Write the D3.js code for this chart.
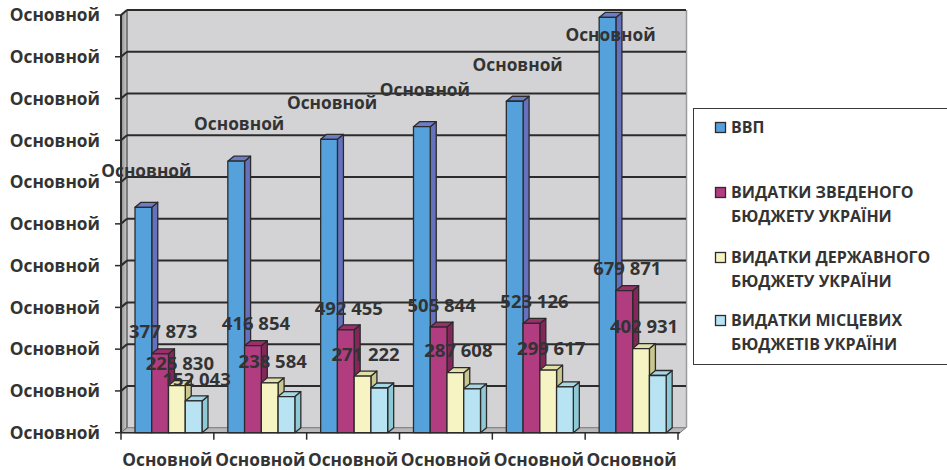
<!DOCTYPE html>
<html>
<head>
<meta charset="utf-8">
<script src="https://cdn.jsdelivr.net/npm/d3@7"></script>
<style>
  body { margin: 0; background: #ffffff; }
  svg { display: block; font-family: "Open Sans", Lato, sans-serif; font-weight: 700; }
</style>
</head>
<body>
<svg id="chart" width="947" height="470"></svg>
<script>
// Category (x) labels and value-axis tick labels
const categoryLabels = ["Основной", "Основной", "Основной", "Основной", "Основной", "Основной"];
const yTickValues = [0, 200000, 400000, 600000, 800000, 1000000, 1200000, 1400000, 1600000, 1800000, 2000000];
const yTickLabel = "Основной";

// Series names (legend)
const seriesNames = [
  ["ВВП"],
  ["ВИДАТКИ ЗВЕДЕНОГО", "БЮДЖЕТУ УКРАЇНИ"],
  ["ВИДАТКИ ДЕРЖАВНОГО", "БЮДЖЕТУ УКРАЇНИ"],
  ["ВИДАТКИ МІСЦЕВИХ", "БЮДЖЕТІВ УКРАЇНИ"]
];

// Series values, mln UAH
const gdp          = [1079346, 1299991, 1404669, 1465198, 1586915, 1988544];
const consolidated = [377873, 416854, 492455, 505844, 523126, 679871];
const stateBudget  = [225830, 238584, 271222, 287608, 299617, 402931];
const localBudgets = [152043, 173000, 214000, 210000, 219000, 274000];

// Which bars carry a data label
const gdpLabelShown   = [true, true, true, true, true, true];
const consLabelShown  = [true, true, true, true, true, true];
const stateLabelShown = [true, true, true, true, true, true];
const localLabelShown = [true, false, false, false, false, false];

const series = [
  { values: gdp,          shown: gdpLabelShown,   front: "#55a1dc", side: "#6570bf", top: "#6d7cc8", text: () => "Основной" },
  { values: consolidated, shown: consLabelShown,  front: "#b13c80", side: "#84265a", top: "#98306a", text: null },
  { values: stateBudget,  shown: stateLabelShown, front: "#f7f4c3", side: "#c9c78f", top: "#e3dfa9", text: null },
  { values: localBudgets, shown: localLabelShown, front: "#b8e3f3", side: "#8ecad6", top: "#a6d7e5", text: null }
];

const fmt = d3.formatLocale({ decimal: ",", thousands: " ", grouping: [3], currency: ["", ""] }).format(",d");

const svg = d3.select("#chart");
const ink = "#2b2b2b";
const textInk = "#333333";

// Geometry of the 3D box
const left = 121, right = 680, bottom = 432.7, topY = 15;
const depthX = 6, depthY = 5;            // wall depth
const barDX = 6, barDY = 5;              // bar depth

const y = d3.scaleLinear().domain([0, 2000000]).range([bottom, topY]);
const x = d3.scaleBand().domain(d3.range(categoryLabels.length)).range([left, 678]).padding(0);
const inner = d3.scaleBand().domain(d3.range(series.length)).range([14, 14 + 4 * 16.75]).padding(0);

const defs = svg.append("defs");
const gSide = defs.append("linearGradient").attr("id", "sideWall").attr("x1", 0).attr("x2", 1).attr("y1", 0).attr("y2", 0);
gSide.append("stop").attr("offset", 0).attr("stop-color", "#8c8c8c");
gSide.append("stop").attr("offset", 1).attr("stop-color", "#cfcfcf");

// Back wall
svg.append("rect")
  .attr("x", left + depthX).attr("y", topY - depthY)
  .attr("width", right + depthX - (left + depthX)).attr("height", bottom - topY)
  .attr("fill", "#d3d3d5");
svg.append("line")
  .attr("x1", right + depthX + 0.5).attr("x2", right + depthX + 0.5)
  .attr("y1", topY - depthY).attr("y2", bottom - depthY)
  .attr("stroke", "#9a9a9a").attr("stroke-width", 1.5);

// Left side wall
svg.append("path")
  .attr("d", `M${left},${topY}L${left + depthX},${topY - depthY}L${left + depthX},${bottom - depthY}L${left},${bottom}Z`)
  .attr("fill", "url(#sideWall)").attr("stroke", ink).attr("stroke-width", 1);

// Floor
svg.append("path")
  .attr("d", `M${left},${bottom}L${left + depthX},${bottom - depthY}L${right + depthX},${bottom - depthY}L${right},${bottom}Z`)
  .attr("fill", "#b9b9b9").attr("stroke", "#777").attr("stroke-width", 1);

// Gridlines on the back and side walls
const grid = svg.append("g").attr("fill", "none").attr("stroke", ink).attr("stroke-width", 2);
yTickValues.forEach(t => {
  if (t === 0) return;
  grid.append("line")
    .attr("x1", left + depthX).attr("x2", right + depthX)
    .attr("y1", y(t) - depthY).attr("y2", y(t) - depthY);
  grid.append("line")
    .attr("x1", left).attr("x2", left + depthX)
    .attr("y1", y(t)).attr("y2", y(t) - depthY);
});

// Value axis
const yAxis = svg.append("g");
yAxis.append("line").attr("x1", left).attr("x2", left).attr("y1", topY).attr("y2", bottom)
  .attr("stroke", ink).attr("stroke-width", 2);
yAxis.selectAll("line.tick").data(yTickValues).join("line").attr("class", "tick")
  .attr("x1", left - 6).attr("x2", left).attr("y1", d => y(d)).attr("y2", d => y(d))
  .attr("stroke", ink).attr("stroke-width", 1.5);
yAxis.selectAll("text").data(yTickValues).join("text")
  .attr("x", 100).attr("y", d => y(d)).attr("dy", "0.36em")
  .attr("text-anchor", "end").attr("fill", textInk).attr("font-size", 17.3)
  .text(yTickLabel);

// Category axis
const xAxis = svg.append("g");
xAxis.append("line").attr("x1", left).attr("x2", right).attr("y1", bottom).attr("y2", bottom)
  .attr("stroke", ink).attr("stroke-width", 1.5);
xAxis.selectAll("line.tick").data(d3.range(categoryLabels.length + 1)).join("line").attr("class", "tick")
  .attr("x1", i => left + i * x.bandwidth()).attr("x2", i => left + i * x.bandwidth())
  .attr("y1", bottom).attr("y2", bottom + 7)
  .attr("stroke", ink).attr("stroke-width", 1.5);
xAxis.selectAll("text").data(categoryLabels).join("text")
  .attr("x", (d, i) => x(i) + x.bandwidth() / 2).attr("y", 466)
  .attr("text-anchor", "middle").attr("fill", textInk).attr("font-size", 17.3)
  .text(d => d);

// 3D bars, drawn left to right so each front face covers its neighbour's side
const bars = svg.append("g").attr("stroke", ink).attr("stroke-width", 1.3).attr("stroke-linejoin", "round");
categoryLabels.forEach((c, i) => {
  series.forEach((s, j) => {
    const x0 = x(i) + inner(j), w = inner.bandwidth();
    const yt = y(s.values[i]), yb = y(0);
    const g = bars.append("g");
    g.append("path")
      .attr("d", `M${x0 + w},${yt}L${x0 + w + barDX},${yt - barDY}L${x0 + w + barDX},${yb - barDY}L${x0 + w},${yb}Z`)
      .attr("fill", s.side);
    g.append("path")
      .attr("d", `M${x0},${yt}L${x0 + barDX},${yt - barDY}L${x0 + w + barDX},${yt - barDY}L${x0 + w},${yt}Z`)
      .attr("fill", s.top);
    g.append("rect")
      .attr("x", x0).attr("y", yt).attr("width", w).attr("height", yb - yt)
      .attr("fill", s.front);
  });
});

// Data labels
const labels = svg.append("g").attr("fill", textInk).attr("text-anchor", "middle");
categoryLabels.forEach((c, i) => {
  series.forEach((s, j) => {
    if (!s.shown[i]) return;
    const cx = x(i) + inner(j) + inner.bandwidth() / 2 + barDX / 2;
    let ly;
    if (j === 0) ly = Math.max(y(s.values[i]) - 37, y(2000000) + 20);
    else ly = y(s.values[i]) - 22;
    labels.append("text")
      .attr("x", cx).attr("y", ly).attr("dy", "0.36em")
      .attr("font-size", j === 0 ? 17.3 : 18.5)
      .text(s.text ? s.text(s.values[i]) : fmt(s.values[i]));
  });
});

// Legend
const legend = svg.append("g");
legend.append("rect").attr("x", 693.5).attr("y", 108.5).attr("width", 300).attr("height", 256)
  .attr("fill", "#ffffff").attr("stroke", "#3a3a3a").attr("stroke-width", 1);
const legendRowY = [133, 198, 263, 326];
seriesNames.forEach((lines, j) => {
  const base = legendRowY[j];
  legend.append("rect").attr("x", 715.5).attr("y", base - 10.5).attr("width", 10).attr("height", 10)
    .attr("fill", series[j].front).attr("stroke", ink).attr("stroke-width", 1.3);
  lines.forEach((t, k) => {
    legend.append("text").attr("x", 731).attr("y", base + k * 24)
      .attr("fill", textInk).attr("font-size", 16).text(t);
  });
});
</script>
</body>
</html>
